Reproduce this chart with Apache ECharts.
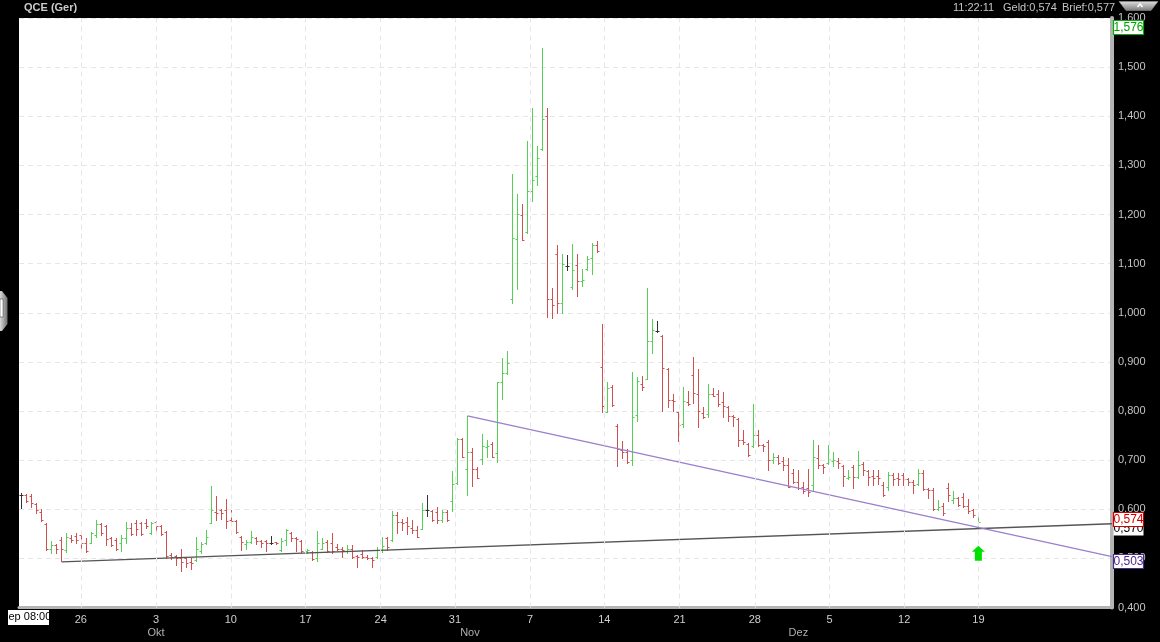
<!DOCTYPE html>
<html><head><meta charset="utf-8">
<script src="https://cdn.jsdelivr.net/npm/echarts@6/dist/echarts.min.js"></script>
<style>html,body{margin:0;padding:0;background:#000;overflow:hidden}#c{width:1160px;height:642px}</style>
</head><body><div id="c"></div>
<script>
// ---- data (bar index = position in arrays; 3 bars per trading day) ----
const opens = [
.629,.629,.626,.610,.595,.570,.519,.527,.537,.517,
.542,.546,.548,.532,.532,.548,.569,.565,.541,.537,
.531,.541,.561,.571,.571,.571,.551,.575,.565,.554,
.507,.504,.500,.500,.493,.497,.514,.531,.573,.595,
.598,.598,.579,.577,.544,.529,.534,.541,.536,.535,
.532,.533,.517,.537,.551,.542,.536,.514,.512,.500,
.520,.534,.531,.524,.520,.514,.520,.504,.509,.502,
.500,.502,.517,.542,.537,.588,.575,.575,.561,.558,
.559,.598,.597,.595,.579,.595,.617,.653,.744,.681,
.717,.681,.702,.726,.733,.714,.860,.878,1.029,1.151,
1.199,1.165,1.247,1.279,1.333,1.401,1.029,1.119,1.019,1.095,
1.052,1.098,1.064,1.089,1.111,1.138,.889,.798,.849,.769,
.721,.717,.700,.792,.854,.866,.943,.963,.953,.886,
.822,.797,.773,.819,.873,.834,.796,.794,.834,.834,
.819,.809,.790,.784,.741,.733,.729,.751,.731,.736,
.700,.707,.698,.690,.674,.656,.646,.643,.649,.704,
.690,.695,.698,.699,.688,.663,.685,.665,.692,.678,
.667,.667,.649,.646,.670,.663,.670,.661,.656,.651,
.673,.641,.640,.600,.607,.643,.619,.622,.624,.607,
.598,.564];
const highs = [
.634,.631,.631,.612,.600,.571,.535,.529,.544,.551,
.548,.552,.551,.541,.554,.578,.571,.568,.544,.541,
.548,.575,.571,.578,.575,.581,.575,.576,.568,.556,
.510,.507,.520,.502,.500,.544,.534,.558,.647,.627,
.600,.620,.598,.578,.546,.537,.556,.544,.537,.537,
.546,.534,.541,.559,.554,.544,.537,.520,.514,.556,
.541,.537,.551,.529,.524,.527,.527,.507,.517,.507,
.502,.524,.543,.544,.597,.595,.581,.584,.578,.565,
.612,.629,.598,.604,.598,.598,.678,.746,.746,.790,
.724,.687,.753,.741,.737,.860,.907,.922,1.282,1.241,
1.222,1.349,1.416,1.339,1.538,1.416,1.050,1.138,1.119,1.117,
1.140,1.119,1.089,1.115,1.142,1.147,.978,.860,.853,.773,
.739,.722,.880,.870,.871,1.051,.988,.983,.954,.887,
.834,.798,.848,.841,.909,.885,.809,.854,.846,.843,
.838,.810,.792,.786,.761,.734,.815,.761,.733,.741,
.714,.710,.707,.704,.681,.680,.656,.681,.741,.731,
.693,.731,.717,.704,.690,.679,.690,.718,.697,.680,
.680,.679,.656,.676,.673,.673,.674,.663,.659,.681,
.680,.643,.643,.619,.612,.654,.637,.624,.634,.620,
.600,.590];
const lows = [
.602,.615,.605,.593,.576,.518,.510,.510,.495,.512,
.534,.531,.520,.512,.531,.544,.548,.527,.525,.518,
.516,.531,.548,.548,.548,.561,.550,.554,.548,.500,
.498,.487,.474,.483,.478,.495,.510,.529,.571,.579,
.581,.561,.571,.552,.518,.520,.532,.529,.524,.516,
.529,.529,.516,.527,.536,.514,.512,.510,.497,.495,
.520,.512,.510,.517,.502,.510,.500,.483,.500,.498,
.483,.500,.512,.517,.536,.551,.558,.550,.551,.543,
.559,.586,.577,.573,.575,.577,.597,.651,.706,.629,
.648,.663,.693,.706,.706,.697,.824,.875,1.020,1.048,
1.148,1.163,1.228,1.261,1.332,.992,.989,1.000,1.000,1.088,
1.048,1.035,1.055,1.087,1.078,1.124,.798,.798,.810,.689,
.704,.695,.691,.780,.843,.866,.919,.961,.801,.809,
.801,.739,.768,.813,.817,.768,.786,.788,.830,.810,
.788,.780,.769,.729,.733,.708,.727,.729,.719,.679,
.695,.692,.679,.645,.653,.641,.634,.627,.637,.683,
.674,.693,.688,.683,.647,.661,.643,.663,.670,.649,
.649,.651,.627,.639,.649,.649,.649,.649,.634,.649,
.639,.622,.598,.598,.588,.617,.613,.607,.604,.593,
.585,.561];
const closes = [
.629,.617,.613,.598,.578,.520,.527,.519,.520,.544,
.537,.537,.531,.514,.552,.569,.551,.539,.527,.520,
.541,.561,.549,.559,.550,.565,.573,.565,.549,.504,
.502,.500,.493,.490,.490,.520,.529,.544,.598,.593,
.592,.577,.577,.554,.534,.534,.544,.536,.532,.532,
.532,.531,.536,.558,.541,.539,.514,.517,.498,.532,
.532,.514,.514,.520,.517,.520,.502,.502,.502,.500,
.497,.517,.525,.523,.588,.575,.571,.565,.558,.544,
.598,.598,.578,.579,.595,.578,.651,.744,.706,.717,
.681,.663,.729,.729,.707,.860,.878,.897,1.153,1.201,
1.148,1.247,1.271,1.316,1.395,1.027,1.016,1.019,1.100,1.095,
1.088,1.064,1.066,1.109,1.138,1.125,.810,.846,.812,.722,
.717,.697,.787,.861,.848,.942,.965,.963,.887,.822,
.821,.771,.820,.815,.836,.800,.788,.834,.831,.814,
.810,.790,.788,.741,.736,.710,.751,.731,.729,.700,
.706,.695,.690,.646,.656,.643,.637,.636,.706,.691,
.685,.702,.700,.695,.668,.665,.665,.690,.680,.665,
.664,.664,.629,.670,.661,.661,.661,.656,.649,.673,
.641,.640,.600,.605,.592,.629,.622,.609,.607,.597,
.588,.574];

// week grid positions (in bar units) and their labels
const weekTickPos    = [12, 27, 41.9, 56.8, 71.8, 86.6, 101.6, 116.4, 131.4, 146.4, 161.3, 176.2, 191];
const weekTickLabels = ['26','3','10','17','24','31','7','14','21','28','5','12','19'];
const monthPos    = [27, 89.6, 155.1];
const monthLabels = ['Okt','Nov','Dez'];

const X_MIN = -0.34, X_MAX = 217.65;
const Y_MIN = 0.4, Y_MAX = 1.6, Y_STEP = 0.1;

const trendBlack  = [[8.2, 0.493], [X_MAX, 0.5705]];
const trendPurple = [[89.1, 0.790], [X_MAX, 0.5034]];

const signalBar = 191, signalLevel = 0.5103;

const priceTags = [
  {v: 0.5705, t: '0,570', fg: '#000', bd: null, dy: 4.5},
  {v: 1.576,  t: '1,576', fg: '#00a000', bd: '#00b000', dy: -2.5},
  {v: 0.574,  t: '0,574', fg: '#cc0000', bd: '#cc0000', dy: -3},
  {v: 0.5034, t: '0,503', fg: '#4b2a8a', bd: '#4b2a8a', dy: 4.5}
];

const GREEN = '#55d055', RED = '#cf5050', DOJI = '#333333';
const FONT = '"Liberation Sans", Arial, sans-serif';
const ohlc = opens.map((o, i) => [i, o, highs[i], lows[i], closes[i]]);

const chart = echarts.init(document.getElementById('c'), null, {renderer: 'canvas'});
function fmtAxis(list, labels) {
  return function (v) {
    for (let k = 0; k < list.length; k++) if (Math.abs(list[k] - v) < 1e-6) return labels[k];
    return '';
  };
}
const option = {
  backgroundColor: '#000',
  animation: false,
  grid: {left: 19, right: 48, top: 18, bottom: 34.5, show: true, backgroundColor: '#fff', borderWidth: 0, containLabel: false, outerBoundsMode: 'none'},
  xAxis: [
    {type: 'value', min: X_MIN, max: X_MAX, position: 'bottom',
     axisLine: {show: true, onZero: false, lineStyle: {color: '#b4b4b4', width: 3}},
     axisTick: {show: false},
     splitLine: {show: false},
     axisLabel: {customValues: weekTickPos, formatter: fmtAxis(weekTickPos, weekTickLabels), color: '#cfcfcf', fontSize: 11, fontFamily: FONT, margin: 7, hideOverlap: false}},
    {type: 'value', min: X_MIN, max: X_MAX, position: 'bottom', offset: 13,
     axisLine: {show: false, onZero: false}, axisTick: {show: false}, splitLine: {show: false},
     axisLabel: {customValues: monthPos, formatter: fmtAxis(monthPos, monthLabels), color: '#b0b0b0', fontSize: 11, fontFamily: FONT, margin: 7}}
  ],
  yAxis: {type: 'value', position: 'right', min: Y_MIN, max: Y_MAX, interval: Y_STEP,
    axisLine: {show: true, onZero: false, lineStyle: {color: '#b4b4b4', width: 4}},
    axisTick: {show: false},
    splitLine: {show: true, lineStyle: {color: '#e6e6e6', type: [5, 4], width: 1}},
    axisLabel: {color: '#c4c4c4', fontSize: 11, fontFamily: FONT, margin: 6,
      formatter: v => v.toFixed(3).replace('.', ',')}},
  series: [
    {type: 'line', data: [], z: 1, silent: true,
     markLine: {silent: true, symbol: ['none', 'none'], label: {show: false},
       lineStyle: {color: '#e6e6e6', type: [5, 4], width: 1},
       data: weekTickPos.map(v => ({xAxis: v}))}},
    {type: 'custom', z: 3, data: ohlc, encode: {x: 0, y: [1, 2, 3, 4]},
     renderItem: function (params, api) {
       const i = api.value(0), o = api.value(1), h = api.value(2), l = api.value(3), c = api.value(4);
       const ph = api.coord([i, h]), pl = api.coord([i, l]), po = api.coord([i, o]), pc = api.coord([i, c]);
       const x = Math.round(ph[0]) + 0.5;
       const col = c > o ? GREEN : (c < o ? RED : DOJI);
       const st = {stroke: col, lineWidth: 1};
       const yo = Math.round(po[1]) + 0.5, yc = Math.round(pc[1]) + 0.5;
       return {type: 'group', children: [
         {type: 'line', shape: {x1: x, y1: Math.round(ph[1]), x2: x, y2: Math.round(pl[1]) + 1}, style: st},
         {type: 'line', shape: {x1: x - 2, y1: yo, x2: x, y2: yo}, style: st},
         {type: 'line', shape: {x1: x, y1: yc, x2: x + 2, y2: yc}, style: st}
       ]};
     },
     markPoint: {silent: true, label: {show: false},
       data: [{coord: [signalBar, signalLevel],
         symbol: 'path://M6.5,0 L13,6 L10,6 L10,15 L3,15 L3,6 L0,6 Z',
         symbolSize: [13, 15], itemStyle: {color: '#00e000'}}]}},
    {type: 'line', z: 4, data: trendBlack, showSymbol: false, silent: true,
     lineStyle: {color: '#555', width: 1.3}},
    {type: 'line', z: 4, data: trendPurple, showSymbol: false, silent: true,
     lineStyle: {color: '#9a7fcc', width: 1.2}}
  ]
};
chart.setOption(option);

// tags, header and decorations
const g = [];
const HF = '11px ' + FONT;
g.push({type: 'text', left: 24, top: 2, style: {text: 'QCE (Ger)', fill: '#cccccc', font: 'bold ' + HF}});
g.push({type: 'text', left: 953, top: 2, style: {text: '11:22:11', fill: '#c4c4c4', font: HF}});
g.push({type: 'text', left: 1003, top: 2, style: {text: 'Geld:0,574', fill: '#c4c4c4', font: HF}});
g.push({type: 'text', left: 1062, top: 2, style: {text: 'Brief:0,577', fill: '#c4c4c4', font: HF}});
g.push({type: 'polygon', shape: {points: [[1119, 1.5], [1158, 1.5], [1151, 10.5], [1126, 10.5]]},
  style: {fill: new echarts.graphic.LinearGradient(0, 0, 0, 1, [{offset: 0, color: '#e0e0e0'}, {offset: 1, color: '#7a7a7a'}]), stroke: '#999', lineWidth: 0.5}});
g.push({type: 'polyline', shape: {points: [[1137.5, 7], [1140, 4], [1142.5, 7]]}, style: {stroke: '#fff', lineWidth: 1.5, fill: null}});
g.push({type: 'polygon', shape: {points: [[0, 291], [2, 291], [7.5, 298], [7.5, 324], [2, 331], [0, 331]]},
  style: {fill: new echarts.graphic.LinearGradient(0, 0, 1, 0, [{offset: 0, color: '#d8d8d8'}, {offset: 1, color: '#707070'}])}});
g.push({type: 'rect', shape: {x: 0, y: 299, width: 3, height: 18}, style: {fill: '#fff', stroke: '#333', lineWidth: 0.5}});
g.push({type: 'rect', shape: {x: 8, y: 610, width: 41, height: 15}, style: {fill: '#fff'}});
g.push({type: 'text', left: 8.5, top: 611.5, style: {text: 'ep 08:00', fill: '#000', font: HF}});
priceTags.forEach((tg, k) => {
  const p = chart.convertToPixel({xAxisIndex: 0, yAxisIndex: 0}, [X_MAX, tg.v]);
  const cy = p[1] + tg.dy;
  g.push({type: 'rect', z: 10 + 2 * k, shape: {x: 1113.5, y: Math.round(cy - 7) + 0.5, width: 30, height: 14},
    style: {fill: '#fff', stroke: tg.bd || '#fff', lineWidth: tg.bd ? 1.2 : 0}});
  g.push({type: 'text', z: 11 + 2 * k, x: 1128.5, y: cy + 0.5, style: {text: tg.t, fill: tg.fg, font: '12px ' + FONT, align: 'center', verticalAlign: 'middle'}});
});
chart.setOption({graphic: g});
</script>
</body></html>
